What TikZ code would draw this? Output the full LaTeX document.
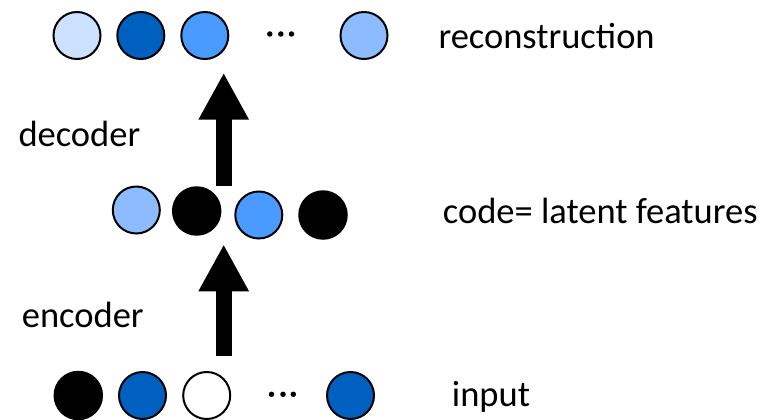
\documentclass[tikz,border=0pt]{standalone}
\usepackage{fontspec}
\setmainfont{Carlito}
\usetikzlibrary{arrows.meta}
\definecolor{cPale}{HTML}{CCE0FF}
\definecolor{cDark}{HTML}{0060C0}
\definecolor{cMid}{HTML}{4A9BFF}
\definecolor{cLight}{HTML}{8CBCFF}
\tikzset{
  unit/.style={circle,draw=black,line width=2pt,minimum size=47pt,inner sep=0pt},
  blackunit/.style={circle,fill=black,minimum size=49.5pt,inner sep=0pt},
  dotmark/.style={circle,fill=black,minimum size=5.5pt,inner sep=0pt},
  lbl/.style={anchor=base west,inner sep=0pt,font=\fontsize{36.5}{40}\selectfont},
  bigarrow/.style={line width=16pt,-{Triangle[width=47pt,length=47pt]}}
}
\begin{document}
\begin{tikzpicture}[x=1pt,y=-1pt]
\useasboundingbox (0,0) rectangle (779,420);
% top row
\node[unit,fill=cPale] (t1) at (77,35.5) {};
\node[unit,fill=cDark] (t2) at (140.8,35.5) {};
\node[unit,fill=cMid] (t3) at (204.8,35.5) {};
\node[dotmark] (td1) at (269.8,34) {};
\node[dotmark] (td2) at (280.8,34) {};
\node[dotmark] (td3) at (291.5,34) {};
\node[unit,fill=cLight] (t4) at (364,35.5) {};
% middle row
\node[unit,fill=cLight] (m1) at (136.3,210) {};
\node[blackunit] (m2) at (196.7,211) {};
\node[unit,fill=cMid] (m3) at (258.8,215) {};
\node[blackunit] (m4) at (323,215) {};
% bottom row
\node[blackunit] (b1) at (78.3,395.5) {};
\node[unit,fill=cDark] (b2) at (142.5,395.5) {};
\node[unit,fill=white] (b3) at (206.7,395.5) {};
\node[dotmark] (bd1) at (271.5,394.3) {};
\node[dotmark] (bd2) at (283,394.3) {};
\node[dotmark] (bd3) at (293.3,394.3) {};
\node[unit,fill=cDark] (b4) at (350.5,395.5) {};
% arrows
\coordinate (a1s) at (223.7,186);
\coordinate (a1e) at (223.7,72.7);
\coordinate (a2s) at (223.7,355.7);
\coordinate (a2e) at (223.7,244.3);
\draw[bigarrow] (a1s) -- (a1e);
\draw[bigarrow] (a2s) -- (a2e);
% labels
\node[lbl] (lrec) at (438.3,48.3) {reconstruction};
\node[lbl] (ldec) at (18.3,146.7) {decoder};
\node[lbl] (lcode) at (442.7,223.3) {code= latent features};
\node[lbl] (lenc) at (21.7,327.3) {encoder};
\node[lbl] (linp) at (451.7,406) {input};
\end{tikzpicture}
\end{document}
